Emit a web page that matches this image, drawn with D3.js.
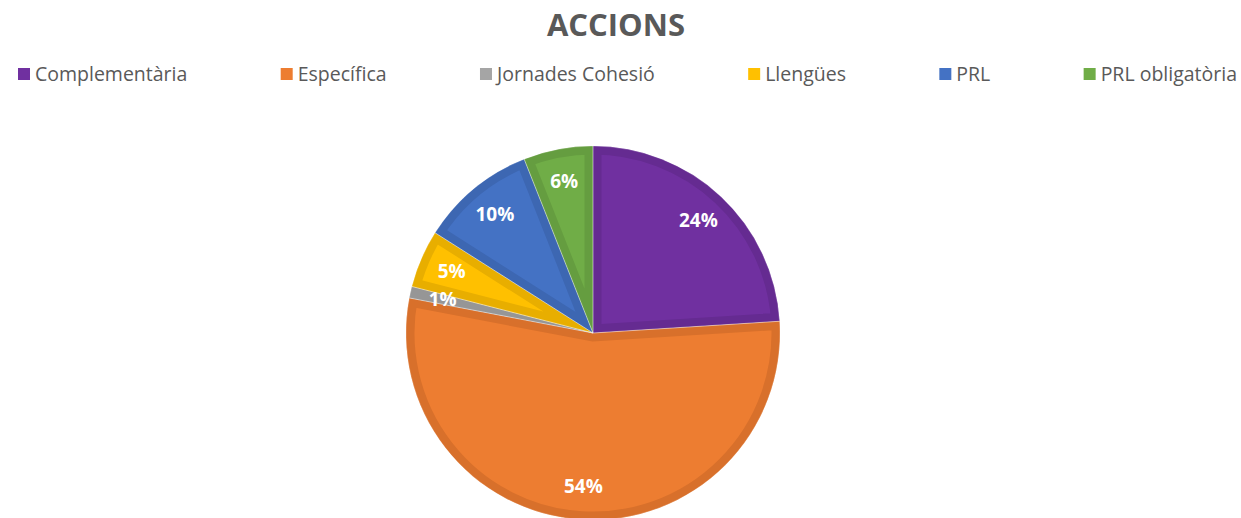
<!DOCTYPE html>
<html>
<head>
<meta charset="utf-8">
<script src="https://cdn.jsdelivr.net/npm/d3@7"></script>
<style>
  body { margin: 0; background: #fff; }
  svg { display: block; font-family: "Open Sans", sans-serif; }
</style>
</head>
<body>
<div id="chart"></div>
<script>
// chart data
const categories = ["Complementària", "Específica", "Jornades Cohesió", "Llengües", "PRL", "PRL obligatòria"];
const values = [24, 54, 1, 5, 10, 6];
const labels = ["24%", "54%", "1%", "5%", "10%", "6%"];
const fills = ["#7030A0", "#ED7D31", "#A5A5A5", "#FFC000", "#4472C4", "#70AD47"];
const edges = ["#652B91", "#D8702B", "#969696", "#E8AE00", "#3D67B2", "#659D40"];

const width = 1241, height = 518;
const cx = 593, cy = 333, radius = 187;

let svg = d3.select("#chart")
    .append("svg")
    .attr("width", width)
    .attr("height", height);

// title
svg.append("text")
    .attr("x", 616)
    .attr("y", 36)
    .attr("text-anchor", "middle")
    .attr("font-weight", "bold")
    .style("font-size", "31px")
    .style("fill", "#595959")
    .text("ACCIONS");

// legend: measure items first, then spread them with equal gaps
let legend = svg.append("g");
let items = legend.selectAll("g")
    .data(categories)
    .enter()
    .append("g");

items.append("rect")
    .attr("width", 12)
    .attr("height", 12)
    .attr("y", 68)
    .style("fill", (d, i) => fills[i]);

items.append("text")
    .attr("x", 17)
    .attr("y", 81)
    .style("font-size", "19.5px")
    .style("fill", "#595959")
    .text(d => d);

let widths = [];
items.each(function () { widths.push(17 + d3.select(this).select("text").node().getComputedTextLength()); });
let left = 18, right = 1237;
let gap = (right - left - d3.sum(widths)) / (categories.length - 1);
let pos = left;
items.each(function (d, i) {
    d3.select(this).attr("transform", "translate(" + pos + ",0)");
    pos += widths[i] + gap;
});

// pie
let pie = d3.pie().sort(null).value(d => d);
let arcs = pie(values);
let arc = d3.arc().innerRadius(0).outerRadius(radius);
let labelArc = d3.arc().innerRadius(154).outerRadius(154);

let g = svg.append("g")
    .attr("transform", "translate(" + cx + "," + cy + ")");

let defs = svg.append("defs");
arcs.forEach((a, i) => {
    defs.append("clipPath")
        .attr("id", "slice" + i)
        .append("path")
        .attr("d", arc(a));
});

// slice fill with darker inner edge
g.selectAll(".slice")
    .data(arcs)
    .enter()
    .append("path")
    .attr("class", "slice")
    .attr("d", arc)
    .attr("clip-path", (d, i) => "url(#slice" + i + ")")
    .style("fill", (d, i) => fills[i])
    .style("stroke", (d, i) => edges[i])
    .style("stroke-width", 17)
    .style("stroke-linejoin", "miter");

// thin separators between slices
g.selectAll(".sep")
    .data(arcs)
    .enter()
    .append("path")
    .attr("class", "sep")
    .attr("d", arc)
    .style("fill", "none")
    .style("stroke", "#ffffff")
    .style("stroke-opacity", 0.35)
    .style("stroke-width", 0.8);

// percentage labels
g.selectAll(".lbl")
    .data(arcs)
    .enter()
    .append("text")
    .attr("class", "lbl")
    .attr("transform", d => "translate(" + labelArc.centroid(d) + ")")
    .attr("dy", "0.35em")
    .attr("text-anchor", "middle")
    .attr("font-weight", "bold")
    .style("font-size", "19px")
    .style("fill", "#ffffff")
    .text((d, i) => labels[i]);
</script>
</body>
</html>
